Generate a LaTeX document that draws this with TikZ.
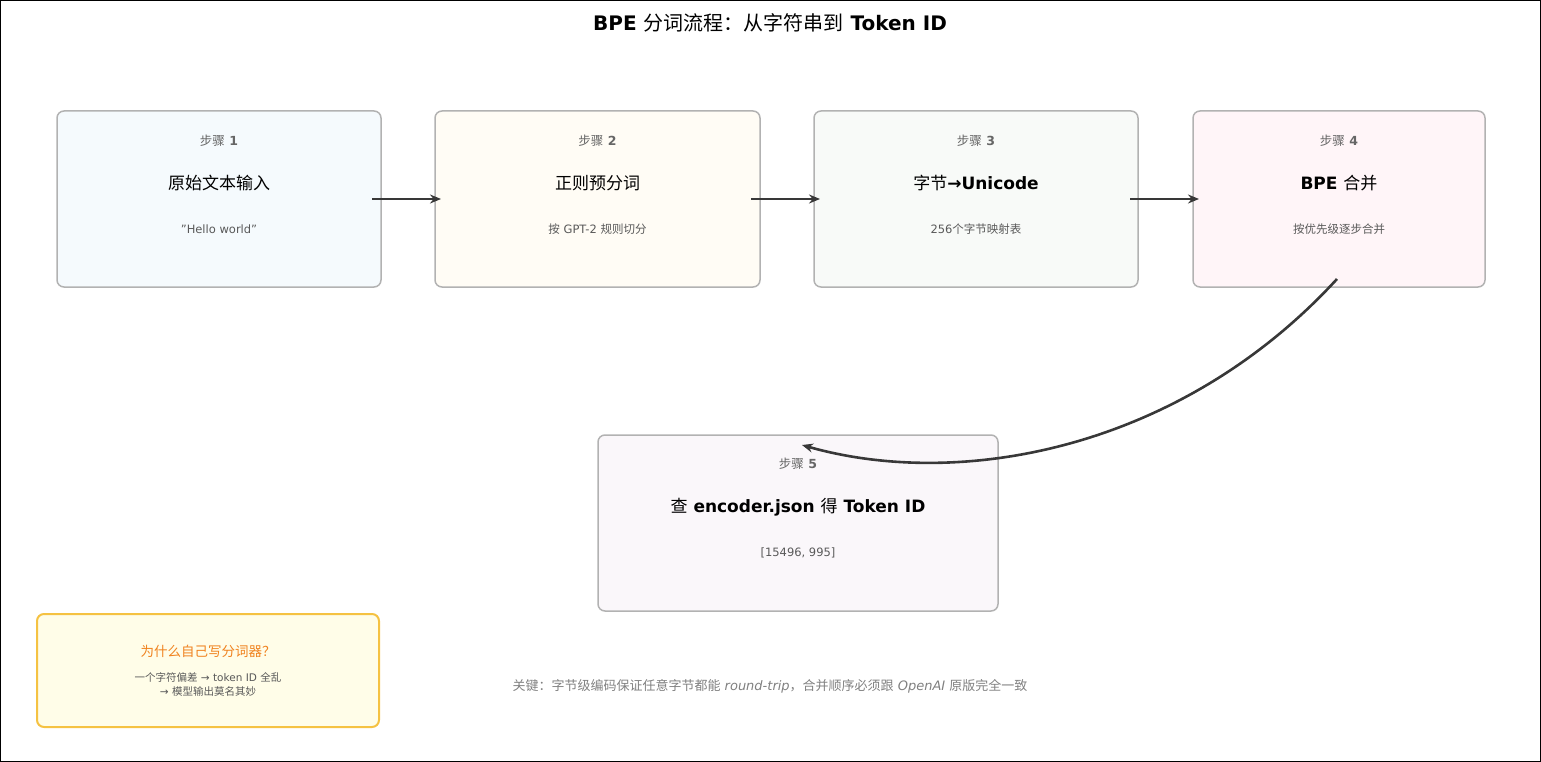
\documentclass[tikz,border=0pt]{standalone}
\usepackage{fontspec}
\setmainfont{DejaVu Sans}
\newfontfamily\cjk{Noto Sans CJK SC}
\usetikzlibrary{arrows.meta}
\begin{document}
\begin{tikzpicture}[x=1pt,y=-1pt,
box/.style={draw=black!30,line width=1.5pt,rounded corners=7pt},
arr/.style={draw=black!78,line width=2.6pt,-{Stealth[length=11pt,width=9pt]}},
stp/.style={font=\fontsize{12.5}{14}\selectfont\bfseries,text=black!60},
ttl/.style={font=\fontsize{17}{19}\selectfont},
sub/.style={font=\fontsize{11.5}{13}\selectfont,text=black!65}]
\draw[black,line width=1pt] (0.5,0.5) rectangle (1540.5,761.5);
\useasboundingbox (0,0) rectangle (1541,762);
\node[font=\fontsize{20}{23}\selectfont\bfseries] (title) at (770,23) {BPE {\cjk\mdseries 分词流程：从字符串到} Token ID};
% boxes
\node[box,fill={rgb,255:red,245;green,250;blue,253},minimum width=324pt,minimum height=176pt] (b1) at (219,199) {};
\node[box,fill={rgb,255:red,255;green,252;blue,245},minimum width=325pt,minimum height=176pt] (b2) at (597.5,199) {};
\node[box,fill={rgb,255:red,248;green,250;blue,248},minimum width=324pt,minimum height=176pt] (b3) at (976,199) {};
\node[box,fill={rgb,255:red,255;green,245;blue,248},minimum width=292pt,minimum height=176pt] (b4) at (1339,199) {};
\node[box,fill={rgb,255:red,250;green,247;blue,250},minimum width=400pt,minimum height=176pt] (b5) at (798,523) {};
\node[draw={rgb,255:red,245;green,194;blue,66},fill={rgb,255:red,255;green,253;blue,232},line width=2pt,rounded corners=7pt,minimum width=342pt,minimum height=113pt] (note) at (208,670.5) {};
% texts
\foreach \n/\x/\s in {1/219/1,2/597.5/2,3/976/3,4/1339/4}{
  \node[stp] (s\n) at (\x,141) {{\cjk\mdseries 步骤} \s};}
\node[ttl] (t1) at (219,183) {\cjk 原始文本输入};
\node[ttl] (t2) at (597.5,183) {\cjk 正则预分词};
\node[ttl,font=\fontsize{17}{19}\selectfont\bfseries] (t3) at (976,183) {{\cjk\mdseries 字节}→Unicode};
\node[ttl,font=\fontsize{17}{19}\selectfont\bfseries] (t4) at (1339,183) {BPE {\cjk\mdseries 合并}};
\node[sub] (u1) at (219,229) {"Hello world"};
\node[sub] (u2) at (597.5,229) {{\cjk 按} GPT-2 {\cjk 规则切分}};
\node[sub] (u3) at (976,229) {256{\cjk 个字节映射表}};
\node[sub] (u4) at (1339,229) {\cjk 按优先级逐步合并};
\node[stp] (s5) at (798,464) {{\cjk\mdseries 步骤} 5};
\node[ttl,font=\fontsize{17}{19}\selectfont\bfseries] (t5) at (798,507) {{\cjk\mdseries 查} encoder.json {\cjk\mdseries 得} Token ID};
\node[sub] (u5) at (798,553) {[15496, 995]};
\node[font=\fontsize{13.5}{15}\selectfont,text={rgb,255:red,240;green,130;blue,30}] (n1) at (208,651) {\cjk 为什么自己写分词器？};
\node[font=\fontsize{10.5}{14}\selectfont,text=black!65,align=center] (n2) at (208,684.5) {{\cjk 一个字符偏差} → token ID {\cjk 全乱}\\→ {\cjk 模型输出莫名其妙}};
\node[font=\fontsize{13}{15}\selectfont,text=black!50] (key) at (770,686) {{\cjk 关键：字节级编码保证任意字节都能} \textit{round-trip}{\cjk ，合并顺序必须跟} \textit{OpenAI} {\cjk 原版完全一致}};
% arrows
\coordinate (a1) at (372,199); \coordinate (a2) at (441,199);
\coordinate (a3) at (751,199); \coordinate (a4) at (820,199);
\coordinate (a5) at (1130,199); \coordinate (a6) at (1199,199);
\coordinate (c1) at (1337,279); \coordinate (c2) at (802,445);
\draw[arr] (a1) -- (a2);
\draw[arr] (a3) -- (a4);
\draw[arr] (a5) -- (a6);
\draw[arr] (c1) .. controls (1180,450) and (960,490) .. (c2);
\end{tikzpicture}
\end{document}
